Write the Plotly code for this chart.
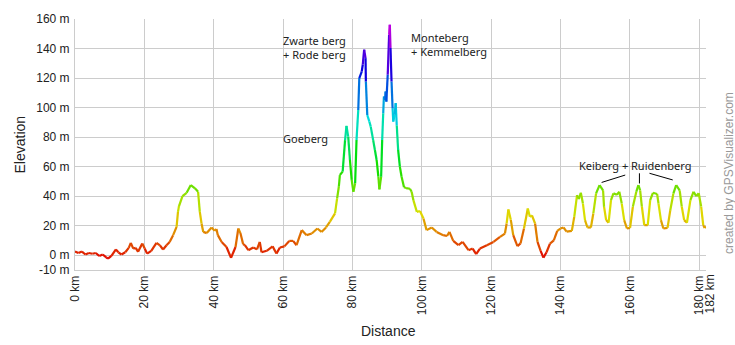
import colorsys
import plotly.graph_objects as go

distance_km = [
    0, 1, 2, 3, 4, 5, 6, 7, 8, 9, 9.5, 10.5, 11.8, 12.5, 13.4, 14.5, 15.5, 16.1, 16.8, 17.5,
    18.2, 19.4, 20.1, 20.8, 22, 23.5, 24.5, 25.4, 26.4, 27.3, 28.3, 29.3, 29.7, 30, 31, 32.2,
    33.4, 34.6, 35.5, 36, 36.5, 37, 38, 39.4, 40.3, 40.8, 41.2, 42.3, 43.7, 45, 46.3, 47.1,
    47.7, 48.5, 49, 50, 51.4, 52.5, 53.3, 53.8, 55.3, 57, 58.1, 59.1, 60.4, 61.8, 62.9, 63.9,
    65.4, 66.8, 68.3, 69.9, 71.1, 72.4, 73.5, 75, 75.6, 76.1, 76.4, 77.2, 77.9, 78.3, 78.8,
    79.3, 79.8, 80.3, 80.8, 81.2, 81.7, 82, 82.7, 83, 83.4, 83.8, 83.9, 84.3, 84.9, 85.3, 86,
    86.5, 87, 87.5, 87.8, 88.3, 88.6, 88.9, 89.1, 89.4, 89.6, 89.8, 90.2, 90.6, 90.8, 91, 91.3,
    91.6, 91.8, 92.2, 92.5, 92.8, 93.2, 93.7, 94.2, 94.9, 95.5, 96.6, 97.1, 97.6, 98.6, 99.5,
    100.5, 101.4, 102.9, 104.3, 106.2, 107.3, 108, 109.1, 110.6, 111.8, 113.5, 114.7, 115.7,
    116.8, 118.8, 120.7, 122.6, 124, 124.5, 125, 125.7, 126.4, 127.6, 128.5, 129.5, 130.6,
    131.2, 131.8, 132.7, 133.4, 134.3, 135.1, 136, 137, 138.1, 139.1, 140, 140.9, 141.8, 143.3,
    144, 144.8, 145.3, 145.9, 146.5, 147.1, 147.8, 148.8, 149.5, 150.3, 151.3, 152.3, 152.6,
    153.2, 153.9, 154.6, 155.3, 156.3, 157, 157.7, 158.4, 159.2, 160.1, 160.9, 161.9, 162.5,
    163, 163.5, 164.2, 165.2, 165.9, 166.7, 167.9, 168.3, 169, 169.7, 170.9, 171.7, 172.6,
    173.4, 174.4, 175, 175.7, 176.5, 177.5, 178.4, 179.2, 179.9, 180.6, 181.2, 181.6, 182,
]
elevation_m = [
    2.5, 1.5, 2.5, 0.5, 1.5, 1, 1.5, -0.5, 0.5, -1.5, -2.3, -0.5, 3.9, 2, 0.5, 2, 5, 8.4, 4.5, 5,
    2.3, 7.9, 4.5, 1.1, 3, 8.4, 6.7, 3.9, 6.8, 9, 13.6, 19.2, 29.4, 33.3, 40, 42.3,
    47.5, 45.3, 43, 29.4, 21.5, 15.8, 15, 18.8, 16.5, 17.8, 13.6, 9, 5.6, -1.8, 5.6, 18.1,
    15, 7.5, 6.8, 3.4, 5.2, 4, 9, 2, 3, 6, 1.1, 5.2, 6, 9.7, 9.7, 6.8,
    17, 13.6, 14.7, 18.1, 15.8, 18.8, 22.6, 28.3, 38.5, 46.4, 54.3, 56.6, 78, 87.6, 80.3,
    64.5, 51, 43, 48.7, 78, 98.4, 120, 124.4, 129, 139.2, 133.5, 117.7, 95, 90.5, 87.1, 78,
    71.3, 64.5, 53.2, 44.6, 53.2, 78, 96.2, 107.5, 105.2, 110.9, 104, 122.2, 149.4, 156.1, 140.3, 117.7,
    99.6, 90.5, 95, 103, 88, 71.3, 60, 53.2, 46, 45.5, 45, 43, 37.3, 29.4, 30,
    24.9, 17, 18.8, 15.8, 13.6, 13, 15.8, 9.7, 6.8, 9, 3.4, 4.5, 0.7,
    4.5, 6.8, 9, 12.4, 14.7, 21.5, 31, 24, 13.6, 6.1, 8, 18.1, 31.7,
    26, 27, 21.5, 9, 3, -1.6, 2, 7.9, 10, 16.5, 18.1, 18.8, 16, 16.5,
    26, 40.7, 38, 42.3, 35, 23.8, 18.8, 18.8, 28.3, 41.9, 47.5, 44, 32.8,
    23.8, 22, 37.3, 41.9, 41, 43, 35, 23.8, 18.1, 18.5, 32.8, 43, 47.5,
    44, 33, 20.4, 20.4, 37.3, 42.3, 41.5, 35, 23.8, 18.1, 18.5, 30.5, 41.9,
    47.5, 44, 33, 23.8, 22, 37.3, 43, 40, 42, 33, 20.4, 18.5, 19.5,
]

x_tickvals = [0, 20, 40, 60, 80, 100, 120, 140, 160, 180, 182]
x_ticktext = [f"{v} km" for v in x_tickvals]
y_tickvals = [-10, 0, 20, 40, 60, 80, 100, 120, 140, 160]
y_ticktext = [f"{v} m" for v in y_tickvals]

labels = [
    ("Zwarte berg<br>+ Rode berg", 60.0, 140.8, "left"),
    ("Monteberg<br>+ Kemmelberg", 96.8, 142.9, "left"),
    ("Goeberg", 60.0, 79.4, "left"),
    ("Keiberg + Ruidenberg", 161.6, 61.1, "center"),
]
pointer_lines = [
    (151.9, 49.3, 158.7, 54.3),
    (162.8, 48.6, 162.8, 55.5),
    (165.7, 55.5, 172.4, 51.0),
]


def elev_color(e):
    lo, hi = -3.0, 157.0
    t = min(max((e - lo) / (hi - lo), 0), 1)
    h = t * 300.0 / 360.0
    r, g, b = colorsys.hsv_to_rgb(h, 1.0, 0.88)
    return "rgb(%d,%d,%d)" % (round(r * 255), round(g * 255), round(b * 255))


NB = 64
bins = {}
for i in range(len(distance_km) - 1):
    m = 0.5 * (elevation_m[i] + elevation_m[i + 1])
    k = int(round((min(max((m + 3) / 160.0, 0), 1)) * (NB - 1)))
    bins.setdefault(k, ([], []))
    xs, ys = bins[k]
    xs += [distance_km[i], distance_km[i + 1], None]
    ys += [elevation_m[i], elevation_m[i + 1], None]

fig = go.Figure()
for k in sorted(bins):
    xs, ys = bins[k]
    mid = -3 + k / (NB - 1) * 160.0
    fig.add_trace(go.Scatter(
        x=xs, y=ys, mode="lines",
        line=dict(color=elev_color(mid), width=2.2),
        hoverinfo="skip", showlegend=False,
    ))

label_font = dict(family="Noto Sans", size=11, color="#222222")
for text, x, y, anchor in labels:
    fig.add_annotation(
        x=x, y=y, xref="x", yref="y", text=text, showarrow=False,
        xanchor=anchor, yanchor="middle", align="left",
        xshift=-2 if anchor == "left" else 0,
        font=label_font,
    )

for x0, y0, x1, y1 in pointer_lines:
    fig.add_shape(type="line", x0=x0, y0=y0, x1=x1, y1=y1, xref="x", yref="y",
                  line=dict(color="#000000", width=1))

axis_family = "Liberation Sans, Arial, sans-serif"
axis_font = dict(family=axis_family, size=12, color="#222222")

# last x tick label drawn separately so that it sits beside "180 km"
x_ticktext_axis = x_ticktext[:-1] + [""]
fig.add_annotation(
    x=x_tickvals[-1], y=0, xref="x", yref="paper", text=x_ticktext[-1],
    showarrow=False, textangle=-90, xanchor="center", yanchor="top",
    xshift=3, yshift=-3, font=axis_font,
)

fig.update_layout(
    width=735, height=345,
    margin=dict(l=75, r=29, t=19, b=75),
    paper_bgcolor="white", plot_bgcolor="white",
    showlegend=False,
    xaxis=dict(
        range=[0, 182], tickmode="array", tickvals=x_tickvals, ticktext=x_ticktext_axis,
        tickangle=-90, showgrid=True, gridcolor="#cccccc", gridwidth=1,
        zeroline=False, showline=True, linecolor="#cccccc", linewidth=1,
        ticks="", tickfont=axis_font, fixedrange=True,
    ),
    yaxis=dict(
        range=[-10, 160], tickmode="array", tickvals=y_tickvals, ticktext=y_ticktext,
        showgrid=True, gridcolor="#cccccc", gridwidth=1,
        zeroline=False, showline=True, linecolor="#cccccc", linewidth=1,
        ticks="", tickfont=axis_font, fixedrange=True, ticklabelstandoff=2,
    ),
)

# axis titles and watermark positioned in pixels, converted to paper coords
pw, ph = 735 - 75 - 29, 345 - 19 - 75
extras = [
    ("Elevation", 19.5, 145, -90, 14, "#222222"),
    ("Distance", 388, 331, 0, 14, "#222222"),
    ("created by GPSVisualizer.com", 729, 173, -90, 12, "#999999"),
]
for text, px, py, ang, size, col in extras:
    fig.add_annotation(
        text=text, x=(px - 75) / pw, y=(345 - 75 - py) / ph, xref="paper", yref="paper",
        showarrow=False, textangle=ang, xanchor="center", yanchor="middle",
        font=dict(family=axis_family, size=size, color=col),
    )

fig.write_html("out.html")
